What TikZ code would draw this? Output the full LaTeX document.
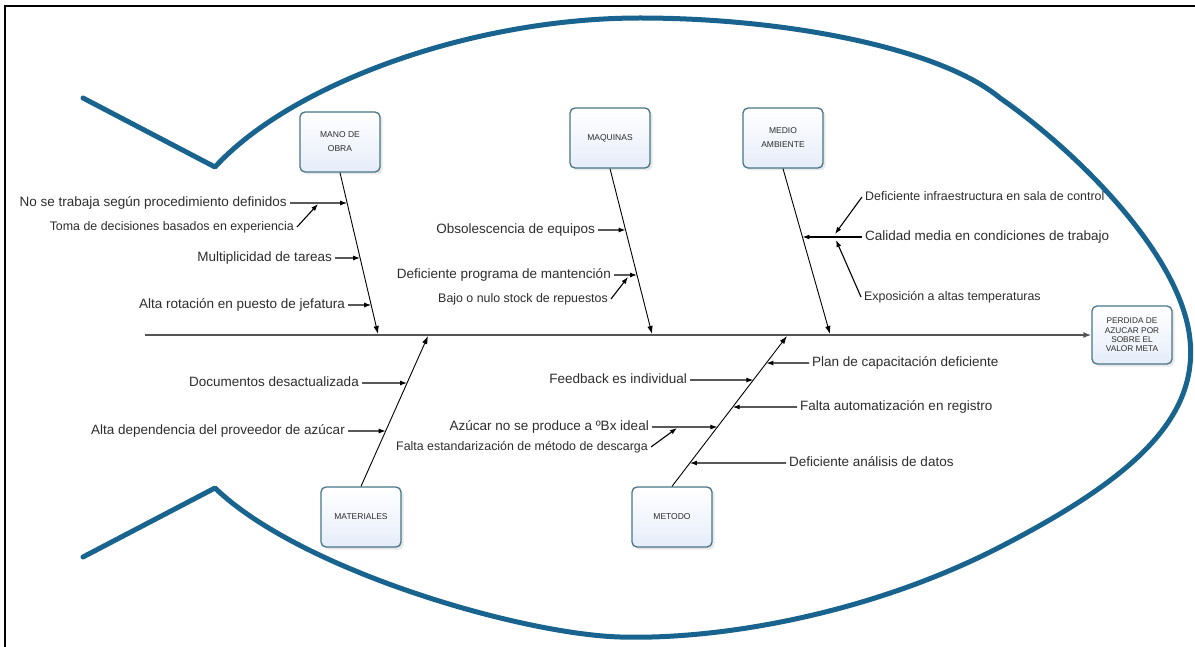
\documentclass[tikz,border=0pt]{standalone}
\usepackage{fontspec}
\setmainfont{Liberation Sans}
\usetikzlibrary{arrows.meta,shadows}

\definecolor{fishblue}{RGB}{24,100,142}
\definecolor{boxline}{RGB}{72,116,136}
\definecolor{boxfill}{RGB}{230,237,249}
\definecolor{spinegray}{RGB}{85,85,85}
\definecolor{txt}{RGB}{45,45,45}

% point on a bone at a given height
\newcommand\onbone[4]{\coordinate (#1) at (intersection of #2--#3 and 0,#4--1195,#4);}

\begin{document}
\begin{tikzpicture}[x=1pt,y=-1pt,
  fish/.style={draw=fishblue,line width=5pt,line join=round,line cap=round},
  frameline/.style={draw=black,line width=2pt},
  catbox/.style={draw=boxline,line width=1.3pt,rounded corners=5pt,
    minimum width=80pt,minimum height=60pt,top color=white,bottom color=boxfill,
    drop shadow={opacity=0.18,shadow xshift=2.5pt,shadow yshift=-2.5pt},
    align=center,text=txt,font=\fontsize{8.5}{14}\selectfont},
  headbox/.style={catbox,minimum height=58pt,font=\fontsize{8.3}{9.3}\selectfont},
  spine/.style={draw=spinegray,line width=2pt,-{Latex[length=8pt,width=6pt]}},
  bone/.style={draw=black,line width=0.9pt,-{Latex[length=8pt,width=5.5pt]}},
  arr/.style={draw=black,line width=1.1pt,-{Latex[length=7pt,width=5pt]}},
  cause/.style={text=txt,inner sep=3pt,text height=10pt,text depth=3pt,
    font=\fontsize{13.5}{16}\selectfont},
  subcause/.style={text=txt,inner sep=3pt,text height=9pt,text depth=2.6pt,
    font=\fontsize{12.4}{14}\selectfont}]

\useasboundingbox (0,0) rectangle (1195,647);

% page frame
\draw[frameline] (5,647) -- (5,6) -- (1195,6);

% fish outline: upper tail, body, lower tail
\draw[fish] (83,98) -- (215,167)
  .. controls (290,85) and (470,18) .. (640,18)
  .. controls (785,18) and (940,48) .. (1000,98)
  .. controls (1075,150) and (1182,255) .. (1190,340)
  .. controls (1198,420) and (1130,480) .. (1000,547)
  .. controls (870,614) and (720,640) .. (620,637)
  .. controls (520,634) and (300,570) .. (215,488)
  -- (83,557);

% effect and categories
\node[headbox] (head) at (1132,335) {PERDIDA DE\\AZUCAR POR\\SOBRE EL\\VALOR META};
\node[catbox] (mo) at (340,142) {MANO DE\\OBRA};
\node[catbox] (ma) at (610,138) {MAQUINAS};
\node[catbox] (me) at (783,138) {MEDIO\\AMBIENTE};
\node[catbox] (mt) at (361,517) {MATERIALES};
\node[catbox] (md) at (672,517) {METODO};

% spine and bones
\coordinate (spL) at (145,335);
\coordinate (moS) at (378,334);
\coordinate (maS) at (652,334);
\coordinate (meS) at (830,334);
\coordinate (mtS) at (428,336);
\coordinate (mdS) at (787,336);
\draw[spine] (spL) -- (head.west);
\draw[bone] (mo.south) -- (moS);
\draw[bone] (ma.south) -- (maS);
\draw[bone] (me.south) -- (meS);
\draw[bone] (mt.north) -- (mtS);
\draw[bone] (md.north) -- (mdS);

% MANO DE OBRA
\node[cause,anchor=east] (mo1) at (290,203) {No se trabaja según procedimiento definidos};
\node[subcause,anchor=east] (mo1s) at (297,227) {Toma de decisiones basados en experiencia};
\node[cause,anchor=east] (mo2) at (335,258) {Multiplicidad de tareas};
\node[cause,anchor=east] (mo3) at (348,305) {Alta rotación en puesto de jefatura};
\onbone{bmo1}{mo.south}{moS}{203}
\onbone{bmo2}{mo.south}{moS}{258}
\onbone{bmo3}{mo.south}{moS}{305}
\coordinate (smo1) at (318,204);
\draw[arr] (mo1) -- (bmo1);
\draw[arr] (mo1s.east) -- (smo1);
\draw[arr] (mo2) -- (bmo2);
\draw[arr] (mo3) -- (bmo3);

% MAQUINAS
\node[cause,anchor=east] (ma1) at (598,230) {Obsolescencia de equipos};
\node[cause,anchor=east] (ma2) at (614,275) {Deficiente programa de mantención};
\node[subcause,anchor=east] (ma2s) at (611,299) {Bajo o nulo stock de repuestos};
\onbone{bma1}{ma.south}{maS}{230}
\onbone{bma2}{ma.south}{maS}{275}
\coordinate (sma2) at (628,277);
\draw[arr] (ma1) -- (bma1);
\draw[arr] (ma2) -- (bma2);
\draw[arr] (ma2s.east) -- (sma2);

% MEDIO AMBIENTE
\node[subcause,anchor=west] (me1s) at (862,197) {Deficiente infraestructura en sala de control};
\node[cause,anchor=west] (me2) at (862,237) {Calidad media en condiciones de trabajo};
\node[subcause,anchor=west] (me3s) at (861,297) {Exposición a altas temperaturas};
\onbone{bme2}{me.south}{meS}{237}
\coordinate (sme1) at (835,234);
\coordinate (sme3) at (836,240);
\draw[arr] (me2) -- (bme2);
\draw[arr] (me1s.west) -- (sme1);
\draw[arr] (me3s.west) -- (sme3);

% MATERIALES
\node[cause,anchor=east] (mt1) at (362,383) {Documentos desactualizada};
\node[cause,anchor=east] (mt2) at (348,431) {Alta dependencia del proveedor de azúcar};
\onbone{bmt1}{mt.north}{mtS}{383}
\onbone{bmt2}{mt.north}{mtS}{431}
\draw[arr] (mt1) -- (bmt1);
\draw[arr] (mt2) -- (bmt2);

% METODO
\node[cause,anchor=east] (md1) at (690,380) {Feedback es individual};
\node[cause,anchor=east] (md2) at (652,427) {Azúcar no se produce a ºBx ideal};
\node[subcause,anchor=east] (md2s) at (651,447) {Falta estandarización de método de descarga};
\node[cause,anchor=west] (md3) at (809,363) {Plan de capacitación deficiente};
\node[cause,anchor=west] (md4) at (797,407) {Falta automatización en registro};
\node[cause,anchor=west] (md5) at (786,463) {Deficiente análisis de datos};
\onbone{bmd1}{md.north}{mdS}{380}
\onbone{bmd2}{md.north}{mdS}{427}
\onbone{bmd3}{md.north}{mdS}{363}
\onbone{bmd4}{md.north}{mdS}{407}
\onbone{bmd5}{md.north}{mdS}{463}
\coordinate (smd2) at (677,428);
\draw[arr] (md1) -- (bmd1);
\draw[arr] (md2) -- (bmd2);
\draw[arr] (md2s.east) -- (smd2);
\draw[arr] (md3) -- (bmd3);
\draw[arr] (md4) -- (bmd4);
\draw[arr] (md5) -- (bmd5);

\end{tikzpicture}
\end{document}
